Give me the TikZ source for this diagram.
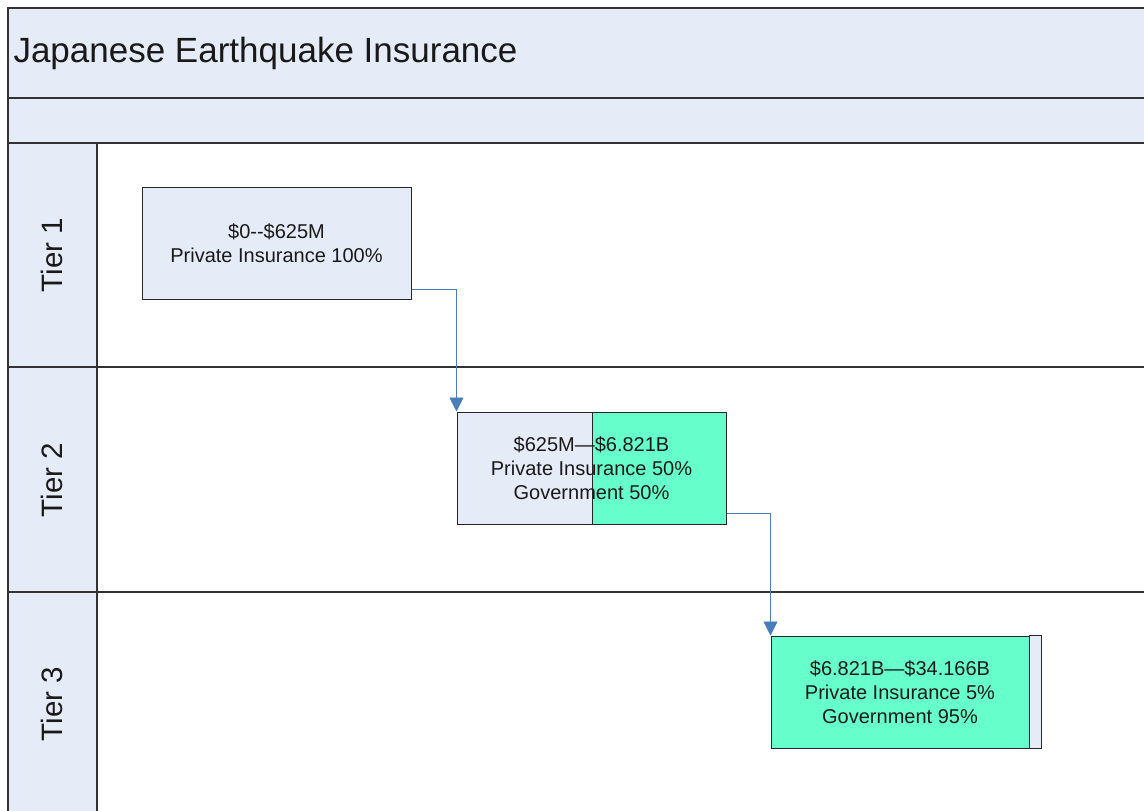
\documentclass[tikz,border=0pt]{standalone}
\usepackage{fontspec}
\setmainfont{Liberation Sans}
\usetikzlibrary{arrows.meta}
\definecolor{lightfill}{HTML}{E6ECF7}
\definecolor{greenfill}{HTML}{66FFCC}
\definecolor{arrowblue}{HTML}{4A7EBB}
\definecolor{framegray}{HTML}{333333}
\tikzset{
  frameline/.style={draw=framegray, line width=1.4pt},
  boxstyle/.style={draw=black!85, line width=1pt, minimum width=269pt, minimum height=112pt,
    inner sep=0pt, align=center, font=\fontsize{20}{24}\selectfont, text=black!90},
  tierlabel/.style={rotate=90, font=\fontsize{29.5}{34}\selectfont, text=black!90},
  conn/.style={draw=arrowblue, line width=0.9pt, -{Triangle[width=14pt,length=14pt]}}
}
\begin{document}
\begin{tikzpicture}[x=1pt,y=-1pt]
\useasboundingbox (0,0) rectangle (1144,811);
\fill[white] (0,0) rectangle (1144,811);
% header bands
\fill[lightfill] (8,8) rectangle (1150,143);
\fill[lightfill] (8,143) rectangle (97,820);
\draw[frameline] (1150,8) -- (8,8) -- (8,820);
\draw[frameline] (8,98) -- (1150,98);
\draw[frameline] (8,143) -- (1150,143);
\draw[frameline] (97,143) -- (97,820);
\draw[frameline] (8,367) -- (1150,367);
\draw[frameline] (8,592) -- (1150,592);
\node[anchor=west, font=\fontsize{35}{40}\selectfont, text=black!90] (title) at (10,53) {Japanese Earthquake Insurance};
\node[tierlabel] (t1) at (52,255) {Tier 1};
\node[tierlabel] (t2) at (52,480) {Tier 2};
\node[tierlabel] (t3) at (52,704) {Tier 3};
% boxes
\node[boxstyle, fill=lightfill] (box1) at (276.5,243) {\$0-{}-\$625M\\Private Insurance 100\%};
\node[boxstyle, path picture={
  \fill[lightfill] (path picture bounding box.north west) rectangle ([xshift=-134.5pt]path picture bounding box.south east);
  \fill[greenfill] ([xshift=135pt]path picture bounding box.north west) rectangle (path picture bounding box.south east);
  \draw[black!85, line width=1pt] ([xshift=135pt]path picture bounding box.north west) -- ([xshift=135pt]path picture bounding box.south west);
}] (box2) at (591.5,468) {\$625M—\$6.821B\\Private Insurance 50\%\\Government 50\%};
\node[boxstyle, minimum width=258pt, fill=greenfill] (box3) at (900,692) {\$6.821B—\$34.166B\\Private Insurance 5\%\\Government 95\%};
\draw[black!85, line width=1pt, fill=lightfill] (box3.north east) rectangle ([xshift=12pt]box3.south east);
% connectors
\draw[conn] ([yshift=-46pt]box1.east) -| (box2.north west);
\draw[conn] ([yshift=-45pt]box2.east) -| (box3.north west);
\end{tikzpicture}
\end{document}
